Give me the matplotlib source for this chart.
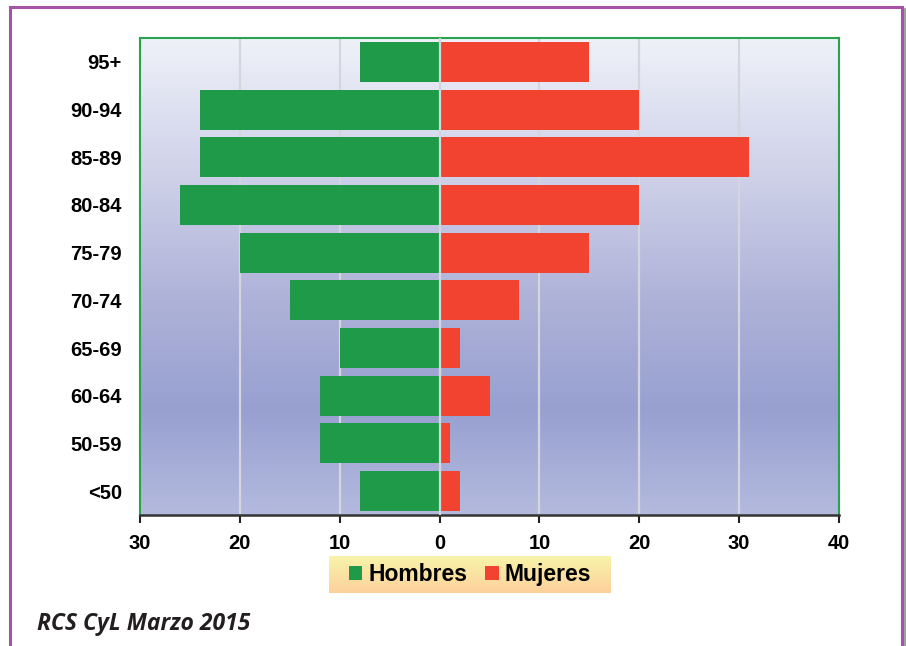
import matplotlib
matplotlib.use('Agg')
import matplotlib.pyplot as plt
import numpy as np
from matplotlib.colors import LinearSegmentedColormap
from matplotlib.patches import Patch
from matplotlib.lines import Line2D

# datos (de abajo hacia arriba)
grupos = ['<50', '50-59', '60-64', '65-69', '70-74', '75-79', '80-84', '85-89', '90-94', '95+']
hombres = [8, 12, 12, 10, 15, 20, 26, 24, 24, 8]
mujeres = [2, 1, 5, 2, 8, 15, 20, 31, 20, 15]
xticks = [-30, -20, -10, 0, 10, 20, 30, 40]
xlabels = ['30', '20', '10', '0', '10', '20', '30', '40']

verde = '#1e9a48'
rojo = '#f1432f'
W, H = 906, 646

plt.rcParams['font.family'] = ['Liberation Sans', 'DejaVu Sans']
fig = plt.figure(figsize=(W / 100, H / 100), dpi=100)
fig.patch.set_facecolor('white')

# marco morado exterior
marco = '#a652a6'
fig.add_artist(Line2D([10 / W, 10 / W], [0, 1 - 7 / H], color=marco, lw=2.2))
fig.add_artist(Line2D([10 / W, 902 / W], [1 - 7 / H, 1 - 7 / H], color=marco, lw=2.2))
fig.add_artist(Line2D([904.5 / W, 904.5 / W], [0, 1 - 9 / H], color='#9a9a9a', lw=2))
fig.add_artist(Line2D([902 / W, 902 / W], [0, 1 - 7 / H], color=marco, lw=2.2))

ax = fig.add_axes([140 / W, (H - 515) / H, 699 / W, 477 / H])

# fondo degradado
fondo = LinearSegmentedColormap.from_list('fondo', [
    (0.0, '#b4bade'), (0.22, '#97a0d0'), (0.45, '#aeb2d8'),
    (0.66, '#c8cbe5'), (1.0, '#eff1f9')])
grad = np.linspace(0, 1, 256).reshape(-1, 1)
ax.imshow(grad, cmap=fondo, aspect='auto', origin='lower',
          extent=[0, 1, 0, 1], transform=ax.transAxes, zorder=0)

y = np.arange(len(grupos))
bh = ax.barh(y, [-v for v in hombres], height=0.84, color=verde, zorder=2)
bm = ax.barh(y, mujeres, height=0.84, color=rojo, zorder=2)

for xv in xticks[1:-1]:
    ax.axvline(xv, color='#d4d6de', lw=1.6, zorder=1)
ax.axvline(0, color='#d4d6de', lw=1.6, zorder=3)

ax.set_xlim(-30, 40)
ax.set_ylim(-0.5, len(grupos) - 0.5)
ax.set_xticks(xticks)
ax.set_xticklabels(xlabels, fontsize=14.5, fontweight='bold')
ax.set_yticks(y)
ax.set_yticklabels(grupos, fontsize=14.5, fontweight='bold')
ax.tick_params(axis='y', length=0, pad=13)
ax.tick_params(axis='x', length=6, width=1.5, direction='out', pad=8, color='#222222')

for s in ['left', 'right', 'top']:
    ax.spines[s].set_color('#2aa34c')
    ax.spines[s].set_linewidth(1.5)
ax.spines['bottom'].set_color('#333333')
ax.spines['bottom'].set_linewidth(1.8)

# leyenda con fondo degradado
lax = fig.add_axes([329 / W, (H - 593) / H, 282 / W, 37 / H])
ley = LinearSegmentedColormap.from_list('ley', ['#fdd09c', '#f8f4aa'])
lax.imshow(grad, cmap=ley, aspect='auto', origin='lower', extent=[0, 1, 0, 1])
lax.set_xlim(0, 1)
lax.set_ylim(0, 1)
lax.axis('off')
lax.legend(handles=[Patch(facecolor=verde, label='Hombres'),
                    Patch(facecolor=rojo, label='Mujeres')],
           loc='center', ncol=2, frameon=False,
           prop={'size': 16.5, 'weight': 'bold'},
           handlelength=0.6, handleheight=0.6, handletextpad=0.25,
           columnspacing=0.8, borderpad=0)

fig.text(37 / W, 1 - 624 / H, 'RCS CyL Marzo 2015', fontsize=16.5,
         fontweight='bold', fontstyle='italic', color='#231f20',
         family=['Open Sans', 'DejaVu Sans'], va='center', ha='left')

fig.savefig('out.png', dpi=100)
